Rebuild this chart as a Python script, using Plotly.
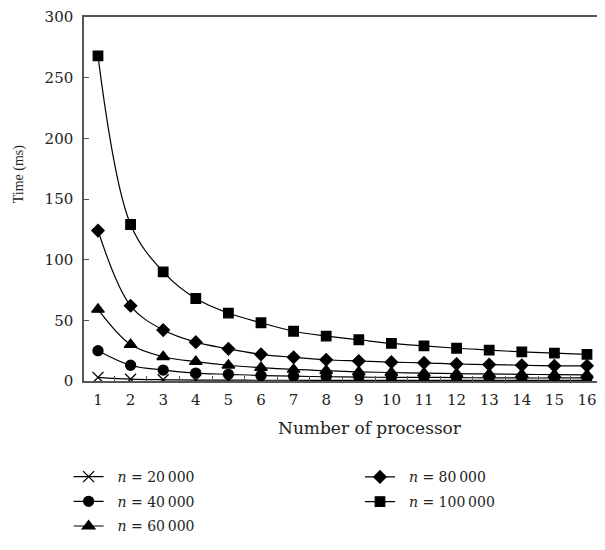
import plotly.graph_objects as go

processors = list(range(1, 17))
series_names = ["<i>n</i> = 20\u2009000", "<i>n</i> = 40\u2009000", "<i>n</i> = 60\u2009000",
                "<i>n</i> = 80\u2009000", "<i>n</i> = 100\u2009000"]
t_20000 = [3, 1.5, 1.0, 0.8, 0.7, 0.6, 0.6, 0.5, 0.5, 0.5, 0.5, 0.5, 0.5, 0.5, 0.5, 0.5]
t_40000 = [25, 13, 9, 6.5, 5.5, 4.5, 4, 3.5, 3.2, 3, 3, 2.8, 2.6, 2.5, 2.5, 2.5]
t_60000 = [59, 30, 20, 16, 13, 11, 9.5, 8.5, 7.5, 7, 6.5, 6, 5.8, 5.5, 5.2, 5]
t_80000 = [124, 62, 42, 32, 26.5, 22, 19.5, 17.5, 16.5, 15.5, 15, 14, 13.5, 13, 12.5, 12.5]
t_100000 = [268, 129, 90, 68, 56, 48, 41, 37, 34, 31, 29, 27, 25.5, 24, 23, 22]
series_values = [t_20000, t_40000, t_60000, t_80000, t_100000]
y_ticks = [0, 50, 100, 150, 200, 250, 300]
symbols = ["x-thin", "circle", "triangle-up", "diamond", "square"]
sizes = [11, 10, 11, 9.5, 9.5]
legends = ["legend", "legend", "legend", "legend2", "legend2"]

FONT = "DejaVu Serif"
PAD = "\u00a0\u00a0"

fig = go.Figure()
for i, (name, vals, sym, sz, lg) in enumerate(zip(series_names, series_values, symbols, sizes, legends)):
    fig.add_trace(go.Scatter(
        x=processors, y=vals, name=PAD + name, mode="lines+markers",
        line=dict(color="black", width=1.2, shape="spline", smoothing=1),
        marker=dict(symbol=sym, size=sz, color="black",
                    line=dict(color="black", width=1.3)),
        legend=lg, legendgroup=f"g{i}",
    ))

leg_common = dict(xanchor="left", yanchor="top", bgcolor="rgba(0,0,0,0)",
                  font=dict(family=FONT, size=14, color="#222"),
                  tracegroupgap=3.5, itemwidth=30)

fig.update_layout(
    width=589, height=534,
    margin=dict(l=76, r=0, t=2, b=148),
    plot_bgcolor="white", paper_bgcolor="white",
    font=dict(family=FONT, size=15, color="#222"),
    showlegend=True,
    legend=dict(x=-0.030, y=-0.2206, **leg_common),
    legend2=dict(x=0.538, y=-0.2206, **leg_common),
    xaxis=dict(range=[0.571, 16.307], tickmode="array", tickvals=processors,
               ticktext=[str(p) for p in processors], ticks="", showgrid=False,
               zeroline=False, showline=True, linecolor="#555", linewidth=1.5,
               mirror=True, ticklabelstandoff=4, ticklabeloverflow="allow",
               minor=dict(tick0=0.5, dtick=1, ticks="inside", ticklen=5,
                          tickcolor="#555", showgrid=False),
               tickfont=dict(family=FONT, size=15)),
    yaxis=dict(range=[0, 300], tickmode="array", tickvals=y_ticks,
               ticktext=[str(v) for v in y_ticks],
               ticks="inside", ticklen=5, tickcolor="#555", showgrid=False,
               zeroline=False, showline=True, linecolor="#555", linewidth=1.5,
               ticklabelstandoff=6, ticklabeloverflow="allow",
               tickfont=dict(family=FONT, size=15)),
    annotations=[
        dict(text="Number of processor", xref="paper", yref="paper",
             x=0.5575, y=-0.130, xanchor="center", yanchor="middle",
             showarrow=False, font=dict(family=FONT, size=17)),
        dict(text="Time (ms)", xref="paper", yref="paper",
             x=-0.1267, y=0.568, xanchor="center", yanchor="middle", textangle=-90,
             showarrow=False, font=dict(family="Liberation Serif", size=14)),
    ],
)

fig.write_html("out.html")
